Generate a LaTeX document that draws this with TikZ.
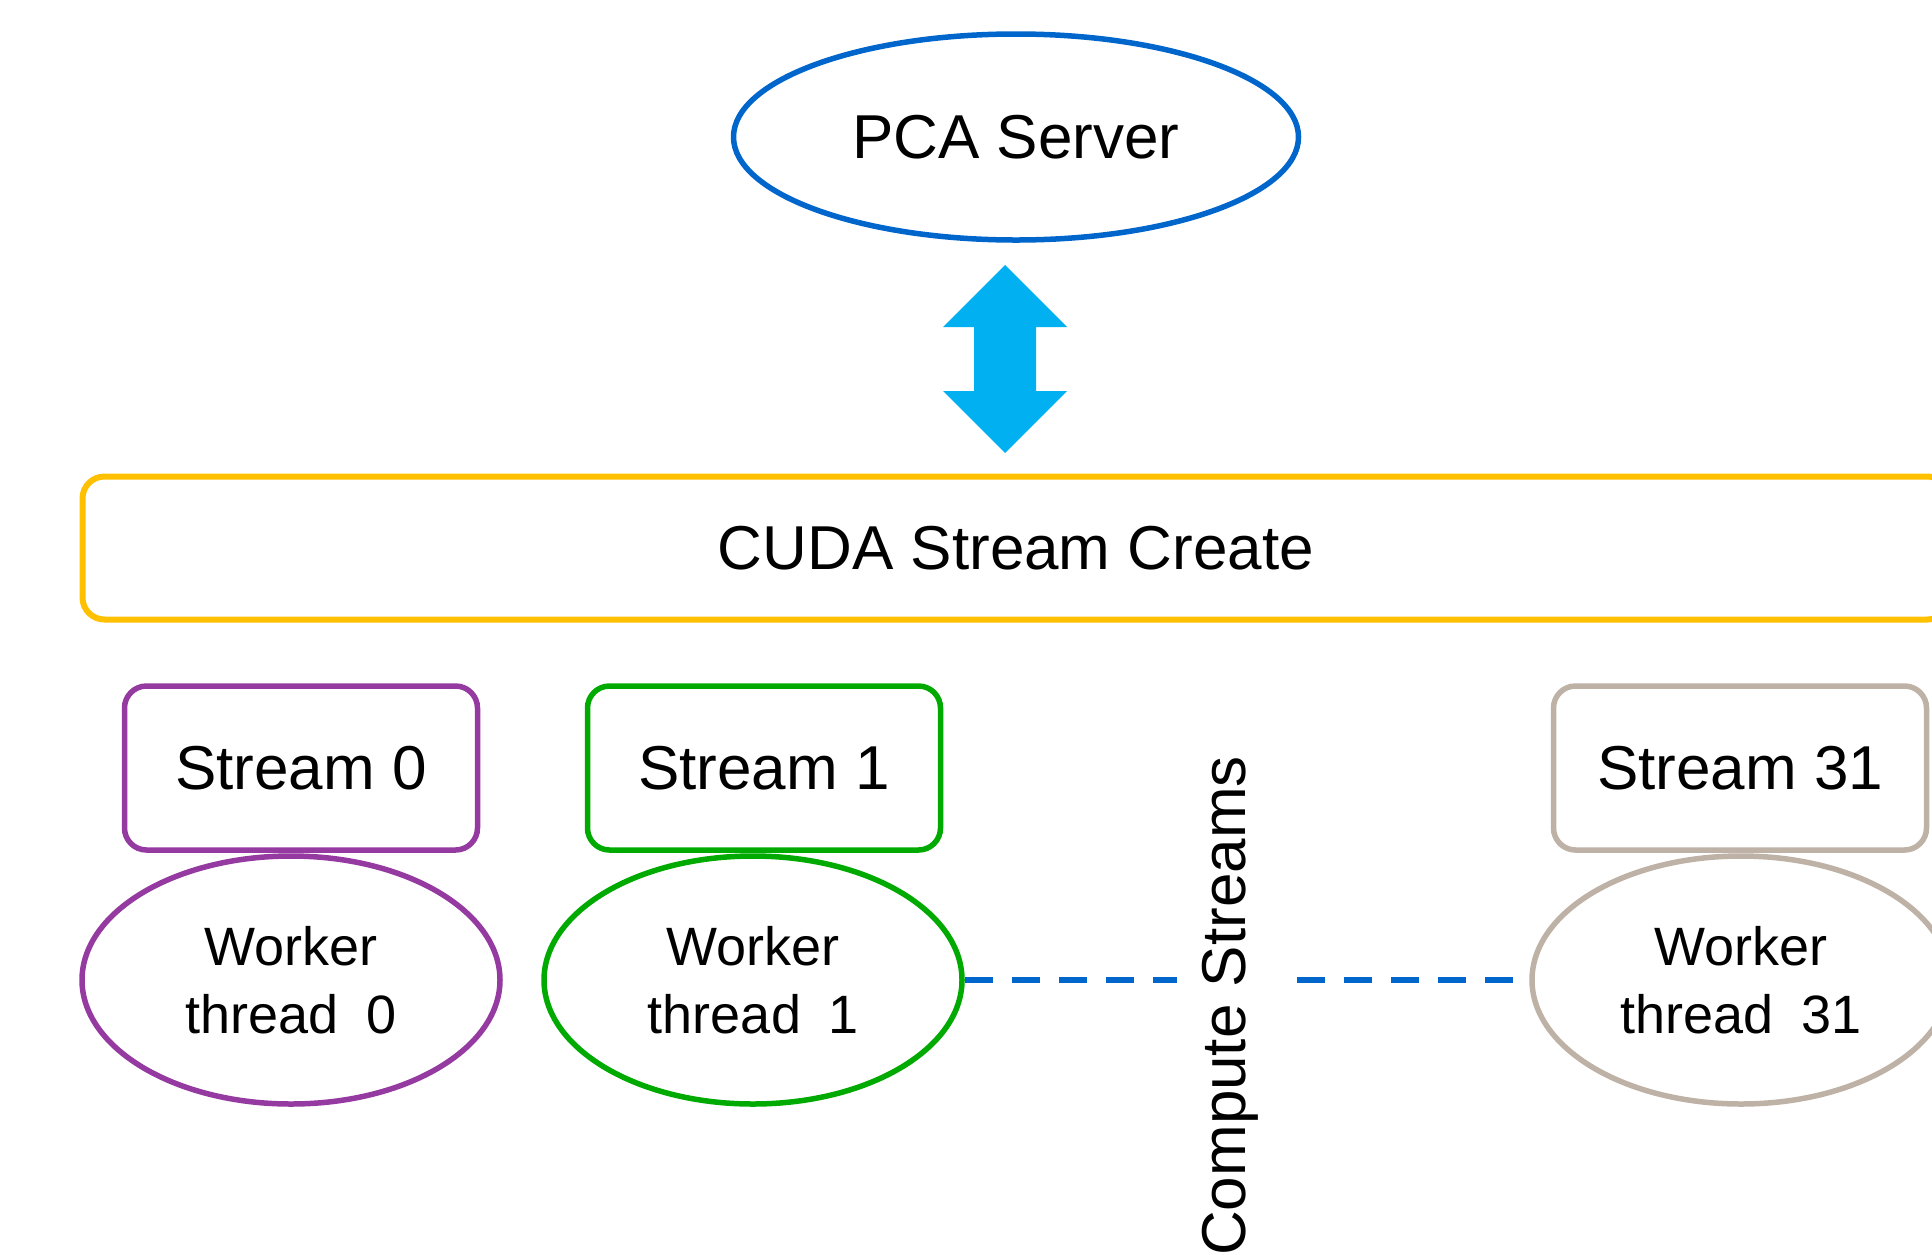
\documentclass[tikz,border=0pt]{standalone}
\usepackage{fontspec}
\setmainfont{Liberation Sans}
\usetikzlibrary{shapes.geometric}
\definecolor{pcablue}{HTML}{0066CC}
\definecolor{arrowblue}{HTML}{00B0F0}
\definecolor{cudayellow}{HTML}{FFC000}
\definecolor{purp}{HTML}{953AA0}
\definecolor{grn}{HTML}{00AA00}
\definecolor{taupe}{HTML}{BEB2A6}
\begin{document}
\begin{tikzpicture}[x=1pt,y=-1pt,
  every node/.style={font=\fontsize{62}{74}\selectfont, text=black},
  ell/.style={draw, ellipse, line width=5.5pt, inner sep=0pt},
  sbox/.style={draw, rectangle, rounded corners=22pt, line width=5.5pt, inner sep=0pt, minimum height=164pt},
  wtext/.style={align=center, font=\fontsize{54}{68}\selectfont},
  dashconn/.style={draw=pcablue, line width=6pt, dash pattern=on 28pt off 19pt},
  bigarrow/.style={fill=arrowblue}
]
\useasboundingbox (0,0) rectangle (1932,1254);
\clip (0,0) rectangle (1932,1254);

\node[ell, draw=pcablue, minimum width=565pt, minimum height=206pt] (pca) at (1016,137) {PCA Server};

\fill[bigarrow] (1005,265) -- (1067,327) -- (1036,327) -- (1036,391) -- (1067,391) -- (1005,453) -- (943,391) -- (974,391) -- (974,327) -- (943,327) -- cycle;

\node[draw=cudayellow, rectangle, rounded corners=22pt, line width=6pt, minimum width=1867pt, minimum height=143pt, inner sep=0pt] (cuda) at (1016,548) {CUDA Stream Create};

\node[sbox, draw=purp, minimum width=353pt] (s0) at (301,768) {Stream 0};
\node[sbox, draw=grn, minimum width=353pt] (s1) at (764,768) {Stream 1};
\node[sbox, draw=taupe, minimum width=373pt] (s31) at (1740,768) {Stream 31};

\node[ell, draw=purp, minimum width=418pt, minimum height=248pt, wtext] (w0) at (291,980) {Worker\\thread\hspace{0.5em}0};
\node[ell, draw=grn, minimum width=418pt, minimum height=248pt, wtext] (w1) at (753,980) {Worker\\thread\hspace{0.5em}1};
\node[ell, draw=taupe, minimum width=418pt, minimum height=248pt, wtext] (w31) at (1741,980) {Worker\\thread\hspace{0.5em}31};

\coordinate (ga) at (1177,980);
\coordinate (gb) at (1297,980);
\draw[dashconn] (w1.east) -- (ga);
\draw[dashconn] (gb) -- (w31.west);

\node[rotate=90] (cs) at (1230,1006) {Compute Streams};
\end{tikzpicture}
\end{document}
